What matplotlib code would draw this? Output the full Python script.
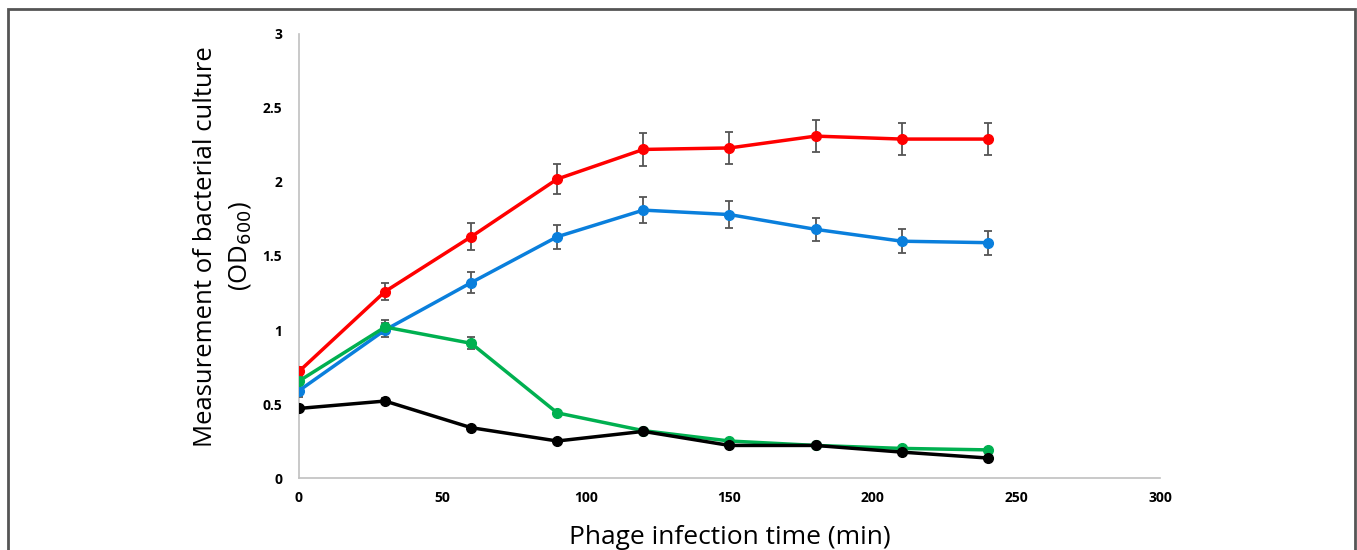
import matplotlib
matplotlib.use('Agg')
import matplotlib.pyplot as plt
from matplotlib.patches import Rectangle

# data
time_min = [0, 30, 60, 90, 120, 150, 180, 210, 240]

od_red = [0.72, 1.26, 1.63, 2.02, 2.22, 2.23, 2.31, 2.29, 2.29]
err_red = [0.03, 0.06, 0.09, 0.10, 0.11, 0.11, 0.11, 0.11, 0.11]

od_blue = [0.59, 1.00, 1.32, 1.63, 1.81, 1.78, 1.68, 1.60, 1.59]
err_blue = [0.04, 0.05, 0.07, 0.08, 0.09, 0.09, 0.08, 0.08, 0.08]

od_green = [0.655, 1.02, 0.91, 0.44, 0.32, 0.25, 0.22, 0.20, 0.19]
err_green = [0.02, 0.05, 0.04, 0.01, 0.01, 0.01, 0.01, 0.01, 0.01]

od_black = [0.47, 0.52, 0.34, 0.25, 0.315, 0.22, 0.22, 0.175, 0.135]
err_black = [0.01, 0.02, 0.01, 0.01, 0.01, 0.01, 0.01, 0.01, 0.01]

series = [
    (od_red, err_red, '#ff0000'),
    (od_blue, err_blue, '#0a7fdc'),
    (od_green, err_green, '#00b050'),
    (od_black, err_black, '#000000'),
]

fig = plt.figure(figsize=(13.57, 5.5), dpi=100)
ax = fig.add_axes([0.2203, 0.1309, 0.6345, 0.8073])

for vals, errs, col in series:
    ax.errorbar(time_min, vals, yerr=errs, color=col, lw=2.5, marker='o', ms=7,
                ecolor='#555555', elinewidth=1.3, capsize=3, capthick=1.3, zorder=3)

ax.set_xlim(0, 300)
ax.set_ylim(0, 3)
ax.set_xticks([0, 50, 100, 150, 200, 250, 300])
ax.set_yticks([0, 0.5, 1, 1.5, 2, 2.5, 3])
ax.set_yticklabels(['0', '0.5', '1', '1.5', '2', '2.5', '3'])

for side in ('top', 'right'):
    ax.spines[side].set_visible(False)
for side in ('left', 'bottom'):
    ax.spines[side].set_color('#c0c0c0')
    ax.spines[side].set_linewidth(1.2)

ax.tick_params(axis='x', length=0, labelsize=10, pad=9)
ax.tick_params(axis='y', length=0, labelsize=10, pad=12)
for lbl in ax.get_xticklabels() + ax.get_yticklabels():
    lbl.set_fontweight('bold')
    lbl.set_fontfamily('Open Sans')

ax.set_xlabel('Phage infection time (min)', fontsize=19, family='Open Sans', labelpad=15)
ax.set_ylabel('Measurement of bacterial culture\n(OD$_{600}$)', fontsize=18.5,
              family='Open Sans', linespacing=1.5)
ax.yaxis.set_label_coords(-0.053, 0.522)

# frame around the whole panel
frame = Rectangle((8 / 1357, -0.05), 1347 / 1357, 1.05 - 9 / 550, transform=fig.transFigure,
                  fill=False, edgecolor='#555555', lw=2, clip_on=False)
fig.patches.append(frame)

fig.savefig('out.png', dpi=100)
